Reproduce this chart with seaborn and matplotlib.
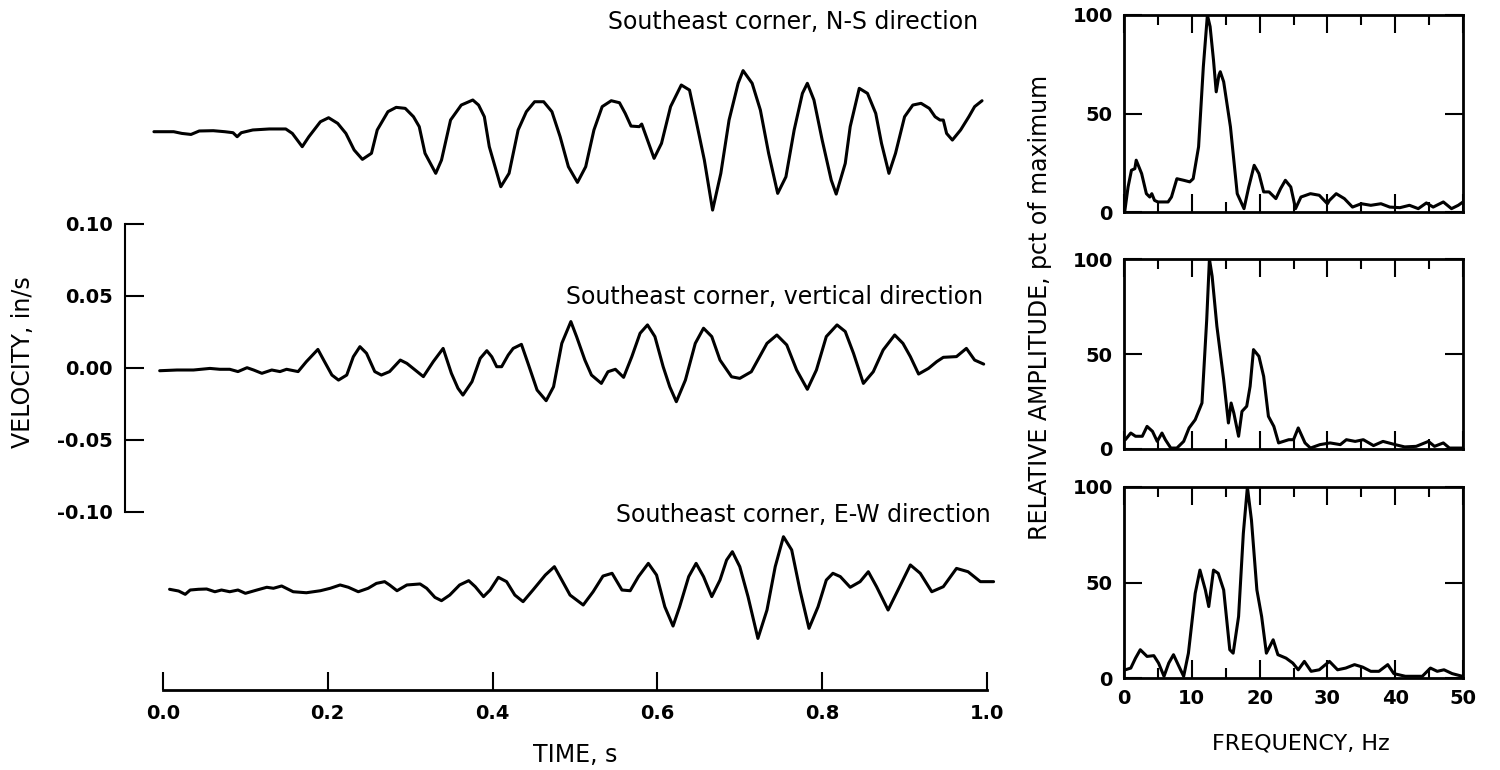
import numpy as np
import pandas as pd
import matplotlib
matplotlib.use("Agg")
import matplotlib.pyplot as plt
import seaborn as sns

# ---------------- data: velocity traces (time in s, velocity in in/s) ----------------
ns_t = [-0.011, 0.013, 0.023, 0.034, 0.044, 0.061, 0.075, 0.085, 0.090, 0.095,
        0.109, 0.129, 0.149, 0.157, 0.169, 0.177, 0.191, 0.201, 0.212, 0.222,
        0.232, 0.242, 0.253, 0.260, 0.273, 0.283, 0.294, 0.304, 0.311, 0.318,
        0.331, 0.338, 0.349, 0.362, 0.376, 0.383, 0.390, 0.396, 0.410, 0.420,
        0.431, 0.441, 0.451, 0.462, 0.472, 0.482, 0.492, 0.503, 0.513, 0.523,
        0.533, 0.544, 0.554, 0.561, 0.568, 0.578, 0.581, 0.588, 0.596, 0.605,
        0.616, 0.629, 0.639, 0.646, 0.657, 0.667, 0.677, 0.687, 0.698, 0.704,
        0.715, 0.725, 0.735, 0.746, 0.756, 0.766, 0.776, 0.782, 0.790, 0.800,
        0.811, 0.817, 0.828, 0.834, 0.845, 0.855, 0.865, 0.872, 0.881, 0.889,
        0.900, 0.910, 0.920, 0.930, 0.937, 0.943, 0.947, 0.951, 0.958, 0.968,
        0.978, 0.985, 0.994]
ns_v = [0, 0, -0.0012, -0.0019, 0.0005, 0.0007, 0, -0.0007, -0.0035, -0.0007,
        0.0012, 0.0019, 0.0019, -0.0012, -0.0104, -0.0035, 0.0069, 0.0097, 0.0058, -0.0012,
        -0.0127, -0.0192, -0.0150, 0.0012, 0.0139, 0.0169, 0.0162, 0.0104, 0.0035, -0.0150,
        -0.0289, -0.0197, 0.0081, 0.0185, 0.0220, 0.0185, 0.0104, -0.0104, -0.0382, -0.0289,
        0.0012, 0.0139, 0.0208, 0.0208, 0.0139, -0.0035, -0.0243, -0.0352, -0.0243, 0.0012,
        0.0174, 0.0215, 0.0201, 0.0127, 0.0039, 0.0035, 0.0053, -0.0058, -0.0185, -0.0081,
        0.0174, 0.0324, 0.0289, 0.0104, -0.0197, -0.0544, -0.0289, 0.0081, 0.0336, 0.0424,
        0.0336, 0.0150, -0.0150, -0.0428, -0.0313, 0.0012, 0.0266, 0.0336, 0.0220, -0.0058,
        -0.0336, -0.0433, -0.0220, 0.0035, 0.0301, 0.0266, 0.0127, -0.0081, -0.0289, -0.0150,
        0.0104, 0.0185, 0.0197, 0.0162, 0.0104, 0.0081, 0.0081, -0.0012, -0.0058, 0.0012,
        0.0104, 0.0174, 0.0215]

vt_t = [-0.004, 0.017, 0.037, 0.057, 0.069, 0.081, 0.091, 0.102, 0.110, 0.120,
        0.132, 0.142, 0.150, 0.164, 0.174, 0.188, 0.195, 0.205, 0.213, 0.223,
        0.231, 0.239, 0.247, 0.257, 0.265, 0.275, 0.288, 0.296, 0.306, 0.316,
        0.328, 0.340, 0.350, 0.358, 0.364, 0.375, 0.385, 0.393, 0.399, 0.405,
        0.411, 0.419, 0.425, 0.435, 0.443, 0.454, 0.465, 0.474, 0.484, 0.495,
        0.502, 0.512, 0.520, 0.532, 0.540, 0.549, 0.559, 0.569, 0.579, 0.588,
        0.597, 0.607, 0.615, 0.623, 0.634, 0.646, 0.656, 0.666, 0.676, 0.690,
        0.700, 0.714, 0.733, 0.745, 0.757, 0.769, 0.782, 0.793, 0.805, 0.818,
        0.828, 0.838, 0.850, 0.862, 0.874, 0.888, 0.898, 0.907, 0.917, 0.929,
        0.939, 0.947, 0.963, 0.975, 0.985, 0.996]
vt_v = [-0.0021, -0.0016, -0.0016, -0.0005, -0.0011, -0.0011, -0.0027, 0.0000, -0.0016, -0.0039,
        -0.0016, -0.0027, -0.0011, -0.0027, 0.0042, 0.0127, 0.0053, -0.0051, -0.0086, -0.0051,
        0.0076, 0.0146, 0.0100, -0.0027, -0.0051, -0.0027, 0.0053, 0.0030, -0.0016, -0.0062,
        0.0042, 0.0134, -0.0039, -0.0143, -0.0190, -0.0097, 0.0065, 0.0118, 0.0076, 0.0007,
        0.0007, 0.0088, 0.0134, 0.0162, 0.0030, -0.0155, -0.0229, -0.0132, 0.0169, 0.0320,
        0.0215, 0.0053, -0.0051, -0.0109, -0.0028, -0.0011, -0.0067, 0.0077, 0.0239, 0.0297,
        0.0216, 0.0007, -0.0132, -0.0236, -0.0086, 0.0169, 0.0274, 0.0216, 0.0053, -0.0063,
        -0.0074, -0.0028, 0.0169, 0.0227, 0.0158, -0.0016, -0.0150, -0.0016, 0.0216, 0.0297,
        0.0251, 0.0100, -0.0109, -0.0028, 0.0123, 0.0227, 0.0169, 0.0077, -0.0044, -0.0005,
        0.0042, 0.0072, 0.0077, 0.0134, 0.0053, 0.0025]

ew_t = [0.008, 0.019, 0.027, 0.033, 0.043, 0.053, 0.063, 0.071, 0.081, 0.091,
        0.100, 0.114, 0.126, 0.134, 0.144, 0.158, 0.174, 0.191, 0.203, 0.215,
        0.225, 0.237, 0.249, 0.259, 0.269, 0.275, 0.284, 0.296, 0.312, 0.320,
        0.330, 0.338, 0.348, 0.360, 0.371, 0.379, 0.389, 0.397, 0.407, 0.417,
        0.427, 0.437, 0.449, 0.464, 0.475, 0.484, 0.494, 0.510, 0.522, 0.534,
        0.545, 0.557, 0.567, 0.577, 0.589, 0.599, 0.609, 0.619, 0.627, 0.638,
        0.647, 0.656, 0.666, 0.676, 0.684, 0.691, 0.700, 0.710, 0.722, 0.733,
        0.743, 0.753, 0.763, 0.773, 0.784, 0.795, 0.805, 0.813, 0.822, 0.834,
        0.846, 0.856, 0.866, 0.880, 0.892, 0.907, 0.919, 0.933, 0.947, 0.963,
        0.977, 0.992, 1.008]
ew_v = [0.0005, -0.0007, -0.0030, 0.0000, 0.0005, 0.0007, -0.0012, 0.0000, -0.0012, 0.0000,
        -0.0023, 0.0000, 0.0019, 0.0012, 0.0028, -0.0012, -0.0019, -0.0005, 0.0012, 0.0035,
        0.0019, -0.0012, 0.0012, 0.0046, 0.0058, 0.0035, -0.0005, 0.0035, 0.0042, 0.0012,
        -0.0051, -0.0074, -0.0035, 0.0035, 0.0065, 0.0023, -0.0046, 0.0000, 0.0088, 0.0058,
        -0.0035, -0.0081, 0.0000, 0.0104, 0.0162, 0.0069, -0.0035, -0.0104, -0.0012, 0.0097,
        0.0116, 0.0000, -0.0005, 0.0093, 0.0185, 0.0104, -0.0116, -0.0250, -0.0116, 0.0093,
        0.0185, 0.0093, -0.0046, 0.0069, 0.0208, 0.0266, 0.0162, -0.0046, -0.0336, -0.0139,
        0.0162, 0.0370, 0.0278, 0.0000, -0.0266, -0.0116, 0.0069, 0.0116, 0.0093, 0.0019,
        0.0058, 0.0127, 0.0023, -0.0139, 0.0000, 0.0174, 0.0116, -0.0012, 0.0023, 0.0150,
        0.0127, 0.0058, 0.0058]

trace_titles = ["Southeast corner, N-S direction",
                "Southeast corner, vertical direction",
                "Southeast corner, E-W direction"]

# ---------------- data: Fourier amplitude spectra (Hz, pct of maximum) ----------------
s1_f = [0.1, 0.6, 1.1, 1.6, 1.8, 2.6, 3.3, 3.8, 4.1, 4.5, 5.0, 6.5, 7.0, 7.8, 8.8, 9.7, 10.2, 11.0, 11.7, 12.3,
        12.7, 13.2, 13.6, 14.0, 14.2, 14.7, 15.7, 16.7, 17.7, 18.4, 19.2, 19.9, 20.6, 21.4, 22.4, 23.1, 23.8, 24.6, 25.3, 26.1,
        27.5, 28.8, 30.0, 30.3, 31.3, 32.5, 33.7, 35.0, 36.4, 37.9, 39.2, 40.7, 42.1, 43.4, 44.6, 45.6, 47.1, 48.3, 49.3, 50.0]
s1_a = [0, 12.7, 21.2, 22.0, 26.3, 19.5, 9.3, 7.6, 9.3, 5.9, 5.1, 5.1, 7.6, 16.9, 16.1, 15.3, 16.9, 33.1, 73.7, 100,
        94.1, 77.1, 61.0, 69.5, 71.2, 66.1, 43.2, 9.3, 1.7, 12.7, 23.7, 19.5, 10.2, 10.2, 6.8, 11.9, 16.1, 12.7, 1.7, 7.6,
        9.3, 8.5, 4.2, 5.9, 9.3, 6.8, 2.5, 4.2, 3.4, 4.2, 2.5, 2.2, 3.4, 1.7, 4.6, 2.5, 5.1, 1.7, 3.4, 5.1]

s2_f = [0.2, 1.0, 1.7, 2.7, 3.4, 4.2, 4.9, 5.6, 6.1, 6.9, 7.8, 8.8, 9.6, 10.5, 11.5, 12.2, 12.6, 13.0, 13.7, 14.7,
        15.4, 15.8, 16.2, 16.9, 17.4, 18.1, 18.6, 19.1, 19.9, 20.6, 21.3, 22.1, 22.8, 24.3, 25.0, 25.7, 26.7, 27.5, 28.9, 30.4,
        31.9, 32.8, 34.1, 35.3, 36.8, 38.2, 40.0, 41.4, 43.1, 44.9, 45.8, 47.1, 48.0, 50.0]
s2_a = [4.9, 8.4, 6.7, 6.7, 11.9, 9.3, 4.0, 8.4, 4.9, 0.5, 0.5, 4.0, 11.1, 15.4, 24.2, 68.1, 100, 90.9, 64.6, 36.5,
        13.7, 24.2, 18.9, 6.7, 19.8, 22.5, 33.0, 52.3, 48.8, 38.2, 17.2, 11.9, 3.2, 4.9, 4.9, 11.1, 3.2, 0.5, 2.3, 3.2,
        2.3, 4.9, 4.0, 4.9, 1.8, 4.0, 2.3, 1.1, 1.4, 4.0, 1.4, 3.2, 0.5, 0.5]

s3_f = [0.2, 1.0, 1.7, 2.4, 3.4, 4.4, 5.1, 5.9, 6.6, 7.3, 8.1, 8.8, 9.5, 10.5, 11.2, 12.0, 12.5, 13.2, 13.9, 14.7,
        15.6, 16.1, 16.9, 17.6, 18.2, 18.8, 19.6, 20.3, 21.0, 22.0, 22.7, 23.9, 24.9, 25.7, 26.6, 27.6, 28.8, 30.3, 31.5, 32.7,
        34.0, 35.2, 36.4, 37.6, 38.9, 39.8, 41.5, 44.0, 45.2, 46.2, 47.2, 48.4, 49.9]
s3_a = [4.3, 5.2, 10.4, 14.8, 11.3, 11.7, 7.8, 0.9, 7.8, 12.2, 6.1, 0.9, 13.0, 44.3, 56.5, 46.1, 37.4, 56.5, 54.8, 46.1,
        14.8, 13.0, 32.2, 75.7, 100, 82.6, 46.1, 32.2, 13.0, 20.0, 12.2, 10.4, 7.8, 4.3, 8.7, 3.5, 4.3, 8.7, 4.3, 5.2,
        7.0, 5.7, 3.5, 3.5, 7.0, 2.3, 0.9, 0.9, 5.2, 3.5, 4.3, 2.3, 0.9]

# ---------------- tick values / labels ----------------
vel_ticks = [-0.10, -0.05, 0.00, 0.05, 0.10]
vel_labels = ["-0.10", "-0.05", "0.00", "0.05", "0.10"]
time_ticks = [0.0, 0.2, 0.4, 0.6, 0.8, 1.0]
time_labels = ["0.0", "0.2", "0.4", "0.6", "0.8", "1.0"]
freq_ticks = [0, 10, 20, 30, 40, 50]
freq_labels = ["0", "10", "20", "30", "40", "50"]
amp_ticks = [0, 50, 100]
amp_labels = ["0", "50", "100"]

# ---------------- style ----------------
sns.set_theme(style="ticks")
plt.rcParams['font.family'] = ['DejaVu Sans']
plt.rcParams['text.color'] = 'black'
plt.rcParams['axes.labelcolor'] = 'black'
plt.rcParams['xtick.color'] = 'black'
plt.rcParams['ytick.color'] = 'black'
plt.rcParams['axes.edgecolor'] = 'black'
plt.rcParams['lines.solid_joinstyle'] = 'round'

W, H = 1500, 770
fig = plt.figure(figsize=(15, 7.7), dpi=100)
fig.patch.set_facecolor('white')

def frac(x0, y0, x1, y1):
    return [x0 / W, 1 - y1 / H, (x1 - x0) / W, (y1 - y0) / H]

TICKFONT = dict(fontsize=14, fontweight='bold')

# ---------------- left: velocity time histories ----------------
ax = fig.add_axes(frac(125, 15, 1000, 690))
ax.set_facecolor('white')
offsets = [0.1638, 0.0, -0.1543]
traces = [(ns_t, ns_v), (vt_t, vt_v), (ew_t, ew_v)]
for (tt, vv), off in zip(traces, offsets):
    df = pd.DataFrame({"time": tt, "velocity": np.array(vv) + off})
    sns.lineplot(data=df, x="time", y="velocity", ax=ax, color="black",
                 linewidth=2.2, estimator=None, sort=False, legend=False)

title_pos = [(0.989, 0.240), (0.995, 0.049), (1.004, -0.102)]
for txt, (tx, ty) in zip(trace_titles, title_pos):
    ax.text(tx, ty, txt, ha="right", va="center", fontsize=17, color="black")

ax.set_xlim(-0.0461, 1.0158)
ax.set_ylim(-0.2237, 0.2448)
ax.spines['top'].set_visible(False)
ax.spines['right'].set_visible(False)
ax.spines['left'].set_bounds(-0.10, 0.10)
ax.spines['bottom'].set_bounds(0.0, 1.0)
ax.spines['left'].set_linewidth(1.5)
ax.spines['bottom'].set_linewidth(2.0)
ax.set_yticks(vel_ticks)
ax.set_yticklabels(vel_labels, **TICKFONT)
ax.set_xticks(time_ticks)
ax.set_xticklabels(time_labels, **TICKFONT)
ax.tick_params(axis='y', direction='in', length=14, width=1.5, pad=9)
ax.tick_params(axis='x', direction='in', length=13, width=1.5, pad=10)
ax.set_xlabel("TIME, s", fontsize=17)
ax.xaxis.set_label_coords((575 - 125) / 875, (690 - 755) / 675)
ax.xaxis.label.set_va('center')
ax.set_ylabel("VELOCITY, in/s", fontsize=17)
ax.yaxis.set_label_coords((23 - 125) / 875, (690 - 362) / 675)
ax.yaxis.label.set_va('center')
ax.yaxis.label.set_ha('center')

# ---------------- right: relative amplitude spectra ----------------
panels = [(15, 212), (259, 449), (487, 678)]
spectra = [(s1_f, s1_a), (s2_f, s2_a), (s3_f, s3_a)]
raxes = []
for i, ((y0, y1), (ff, aa)) in enumerate(zip(panels, spectra)):
    rax = fig.add_axes(frac(1124, y0, 1463, y1))
    rax.set_facecolor('white')
    df = pd.DataFrame({"frequency": ff, "amplitude": aa})
    sns.lineplot(data=df, x="frequency", y="amplitude", ax=rax, color="black",
                 linewidth=2.2, estimator=None, sort=False, legend=False)
    rax.set_xlim(0, 50)
    rax.set_ylim(0, 100)
    for s in rax.spines.values():
        s.set_visible(True)
        s.set_linewidth(2.0)
    rax.set_xticks(freq_ticks)
    rax.set_xticks(np.arange(5, 50, 10), minor=True)
    rax.set_yticks(amp_ticks)
    rax.set_yticklabels(amp_labels, **TICKFONT)
    rax.tick_params(axis='x', which='major', direction='in', length=13, width=1.5,
                    top=True, bottom=True, pad=8)
    rax.tick_params(axis='x', which='minor', direction='in', length=7, width=1.5,
                    top=True, bottom=True)
    rax.tick_params(axis='y', direction='in', length=13, width=1.5,
                    left=True, right=True, pad=8)
    if i == 2:
        rax.set_xticklabels(freq_labels, **TICKFONT)
        rax.set_xlabel("FREQUENCY, Hz", fontsize=16)
        rax.xaxis.set_label_coords((1301 - 1124) / 339, (678 - 743) / 191)
        rax.xaxis.label.set_va('center')
    else:
        rax.set_xticklabels([])
        rax.set_xlabel("")
    rax.set_ylabel("")
    raxes.append(rax)

mid = raxes[1]
mid.set_ylabel("RELATIVE AMPLITUDE, pct of maximum", fontsize=17)
mid.yaxis.set_label_coords((1040 - 1124) / 339, (449 - 307) / 190)
mid.yaxis.label.set_va('center')
mid.yaxis.label.set_ha('center')

fig.savefig("out.png", dpi=100, facecolor='white')
